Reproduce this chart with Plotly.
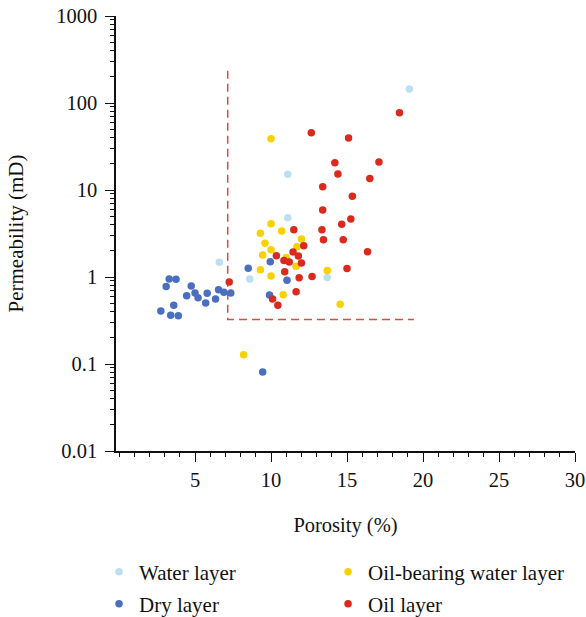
import plotly.graph_objects as go

# Porosity (%) and permeability (mD) of core samples, grouped by layer type
water_phi = [6.6, 8.6, 11.1, 11.1, 13.7, 19.1]
water_k = [1.48, 0.95, 15.2, 4.8, 0.99, 145]

dry_phi = [3.3, 3.75, 3.1, 4.75, 4.45, 5.0, 5.2, 5.8, 5.7, 6.35, 6.55, 6.9, 7.35,
           3.6, 2.75, 3.4, 3.9, 9.45, 8.5, 9.95, 11.05, 9.9]
dry_k = [0.95, 0.94, 0.78, 0.79, 0.61, 0.655, 0.578, 0.65, 0.503, 0.559, 0.715, 0.667, 0.655,
         0.473, 0.407, 0.363, 0.359, 0.081, 1.26, 1.5, 0.916, 0.62]

oilwater_phi = [10.0, 8.2, 10.0, 9.3, 10.7, 9.6, 10.0, 9.45, 11.0, 12.0, 11.7, 11.65,
                9.3, 10.0, 10.8, 13.7, 14.55]
oilwater_k = [38.9, 0.128, 4.1, 3.18, 3.38, 2.44, 2.06, 1.79, 1.68, 2.73, 2.23, 1.33,
              1.21, 1.03, 0.626, 1.19, 0.486]

oil_phi = [18.45, 12.65, 15.1, 14.2, 17.1, 14.4, 16.5, 13.4, 15.35, 13.4, 15.25, 14.65,
           13.35, 11.5, 13.45, 14.75, 16.35, 12.15, 11.45, 11.8, 10.35, 10.85, 11.2,
           12.0, 10.9, 11.85, 12.7, 15.0, 7.25, 11.65, 10.1, 10.45]
oil_k = [77.4, 45.6, 39.6, 20.6, 21.0, 15.3, 13.6, 10.9, 8.5, 5.9, 4.64, 4.03,
         3.5, 3.5, 2.68, 2.68, 1.95, 2.29, 1.94, 1.74, 1.76, 1.55, 1.49,
         1.45, 1.15, 0.98, 1.01, 1.25, 0.876, 0.678, 0.559, 0.473]

# Cut-off lines for effective reservoir: porosity and permeability limits
cutoff_phi = 7.15
cutoff_k = 0.325
cutoff_top_k = 235
cutoff_right_phi = 19.4

x_ticks = [5, 10, 15, 20, 25, 30]
y_ticks = [0.01, 0.1, 1, 10, 100, 1000]
y_tick_text = ["0.01", "0.1", "1", "10", "100", "1000"]

FONT = "Liberation Serif"
FS = 20.5

fig = go.Figure()

fig.add_trace(go.Scatter(
    x=[cutoff_phi, cutoff_phi, cutoff_right_phi],
    y=[cutoff_top_k, cutoff_k, cutoff_k],
    mode="lines", showlegend=False, hoverinfo="skip",
    line=dict(color="#db4a43", width=1.5, dash="8px,5px"),
))

# each legend entry sits in its own box: two columns, two rows
series = [
    ("Water layer", water_phi, water_k, "#bddff2", "legend"),
    ("Oil-bearing water layer", oilwater_phi, oilwater_k, "#f9d100", "legend2"),
    ("Dry layer", dry_phi, dry_k, "#4a6fbf", "legend3"),
    ("Oil layer", oil_phi, oil_k, "#da2a1e", "legend4"),
]
for name, xs, ys, color, leg in series:
    fig.add_trace(go.Scatter(
        x=xs, y=ys, mode="markers", name=name, legend=leg,
        marker=dict(color=color, size=7.5, line=dict(width=0)),
    ))

minor_y = [m * 10 ** e for e in range(-2, 3) for m in range(2, 10)]

legend_style = dict(
    orientation="h", xanchor="left", yanchor="top",
    font=dict(family=FONT, size=21, color="#111"),
    itemwidth=30, bgcolor="rgba(0,0,0,0)",
)
col_x = [-0.037, 0.462]
row_y = [-0.2314, -0.305]

fig.update_layout(
    width=586, height=617, autosize=False,
    margin=dict(l=116, r=11, t=16, b=166, autoexpand=False),
    paper_bgcolor="white", plot_bgcolor="white",
    font=dict(family=FONT, size=FS, color="#111"),
    xaxis=dict(
        range=[-0.2, 30], showgrid=False, zeroline=False, automargin=False,
        showline=True, linecolor="#111", linewidth=1.5,
        ticks="outside", ticklen=9, tickwidth=1.3, tickcolor="#111",
        tickvals=x_ticks, ticklabelstandoff=1,
        minor=dict(ticks="outside", ticklen=4, tickwidth=1, tickcolor="#111", dtick=1, tick0=0),
        title=dict(text="Porosity (%)", standoff=27, font=dict(family=FONT, size=FS)),
    ),
    yaxis=dict(
        type="log", range=[-2, 3], showgrid=False, zeroline=False, automargin=False,
        showline=True, linecolor="#111", linewidth=1.5,
        ticks="outside", ticklen=9, tickwidth=1.3, tickcolor="#111",
        tickvals=y_ticks, ticktext=y_tick_text, ticklabelstandoff=4,
        minor=dict(ticks="outside", ticklen=4, tickwidth=1, tickcolor="#111", tickvals=minor_y),
        title=dict(text="Permeability (mD)", standoff=27, font=dict(family=FONT, size=FS + 0.5)),
    ),
    legend=dict(x=col_x[0], y=row_y[0], **legend_style),
    legend2=dict(x=col_x[1], y=row_y[0], **legend_style),
    legend3=dict(x=col_x[0], y=row_y[1], **legend_style),
    legend4=dict(x=col_x[1], y=row_y[1], **legend_style),
)

fig.write_html("out.html")
